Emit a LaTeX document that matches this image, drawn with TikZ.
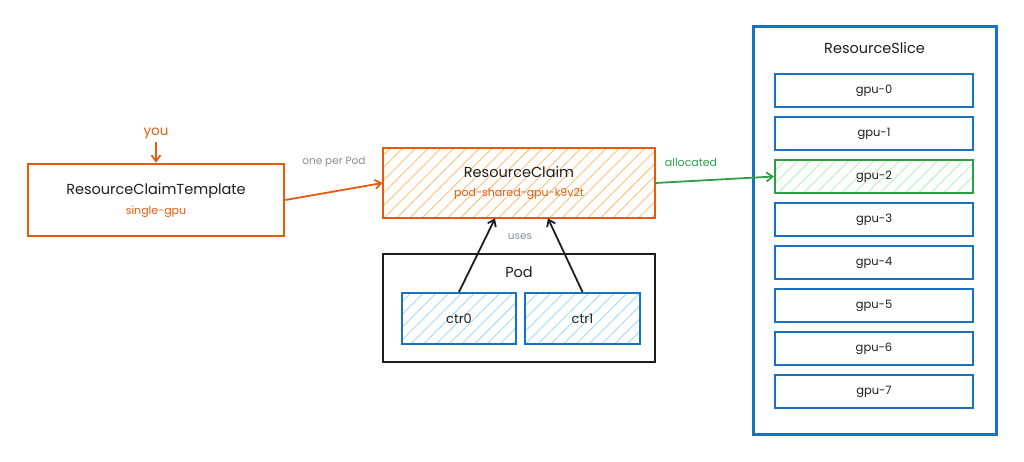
\documentclass[tikz,border=0pt]{standalone}
\usepackage{fontspec}
\setmainfont{Poppins}
\usetikzlibrary{arrows.meta,positioning,patterns.meta}
\definecolor{claimorange}{RGB}{232,89,12}
\definecolor{hatchorange}{RGB}{255,192,120}
\definecolor{ctrblue}{RGB}{25,113,194}
\definecolor{hatchblue}{RGB}{165,216,255}
\definecolor{allocgreen}{RGB}{47,158,68}
\definecolor{hatchgreen}{RGB}{178,242,187}
\definecolor{inkdark}{RGB}{30,30,30}
\definecolor{notegray}{RGB}{134,142,150}

\begin{document}
\begin{tikzpicture}[
  x=1pt, y=-1pt,
  font=\fontsize{14.5}{17}\selectfont,
  box/.style={draw, line width=2.6pt, align=center, inner sep=0pt, text=inkdark},
  hatched/.style={pattern={Lines[angle=45,distance=9pt,line width=0.9pt]}, pattern color=#1},
  gpu/.style={box, draw=ctrblue, line width=2pt, minimum width=198pt, minimum height=33pt,
    font=\fontsize{11.5}{13}\selectfont},
  gpusel/.style={gpu, draw=allocgreen, hatched=hatchgreen},
  ctr/.style={box, draw=ctrblue, line width=2pt, hatched=hatchblue, minimum height=51pt,
    font=\fontsize{13}{15}\selectfont},
  link/.style={-{Straight Barb[length=6pt,width=9pt]}, line width=1.8pt},
  note/.style={font=\fontsize{10.5}{12}\selectfont, text=notegray},
]
\useasboundingbox (0,0) rectangle (1024,462);

% -------------------------------------------------------------------------
% Template and the claim it stamps out
% -------------------------------------------------------------------------
\node[box, draw=claimorange, minimum width=256pt, minimum height=72pt]
  (tmpl) at (156,200)
  {ResourceClaimTemplate\\[3pt]{\fontsize{11}{13}\selectfont\color{claimorange}single-gpu}};
\node[text=claimorange, font=\fontsize{13.5}{15}\selectfont] (you) at (156,133) {you};
\draw[link, claimorange] (you.south) -- (tmpl.north -| you.south);

\node[box, draw=claimorange, hatched=hatchorange, minimum width=272pt, minimum height=70pt]
  (claim) at (519,183)
  {ResourceClaim\\[2pt]{\fontsize{11}{13}\selectfont\color{claimorange}pod-shared-gpu-k9v2t}};

\draw[link, claimorange] (tmpl.east) -- (claim.west)
  node[note, pos=0.5, above=20pt] {one per Pod};

% -------------------------------------------------------------------------
% Pod with its two containers
% -------------------------------------------------------------------------
\node[box, draw=inkdark, minimum width=272pt, minimum height=108pt] (pod) at (519,308) {};
\node[below=11pt of pod.north, text=inkdark] (podtitle) {Pod};
\node[ctr, minimum width=114pt] (ctr0) at (459,318.5) {ctr0};
\node[ctr, minimum width=115pt] (ctr1) at (582.5,318.5) {ctr1};

\draw[link, inkdark] (ctr0.north) -- ([xshift=-24pt]claim.south);
\draw[link, inkdark] (ctr1.north) -- ([xshift=29pt]claim.south);
\node[note] (uses) at (520,237) {uses};

% -------------------------------------------------------------------------
% ResourceSlice with eight devices
% -------------------------------------------------------------------------
\node[box, draw=ctrblue, line width=3pt, minimum width=243pt, minimum height=407pt]
  (slice) at (874.5,230.5) {};
\node[below=13pt of slice.north, text=inkdark] (slicetitle) {ResourceSlice};
\foreach \i in {0,...,7}{
  \ifnum\i=2 \def\gpustyle{gpusel}\else\def\gpustyle{gpu}\fi
  \node[\gpustyle] (gpu\i) at (874,90.5+43*\i) {gpu-\i};
}

\draw[link, allocgreen] (claim.east) -- (gpu2.west)
  node[pos=0.3, above=10pt, font=\fontsize{11}{13}\selectfont, text=allocgreen] {allocated};

\end{tikzpicture}
\end{document}
